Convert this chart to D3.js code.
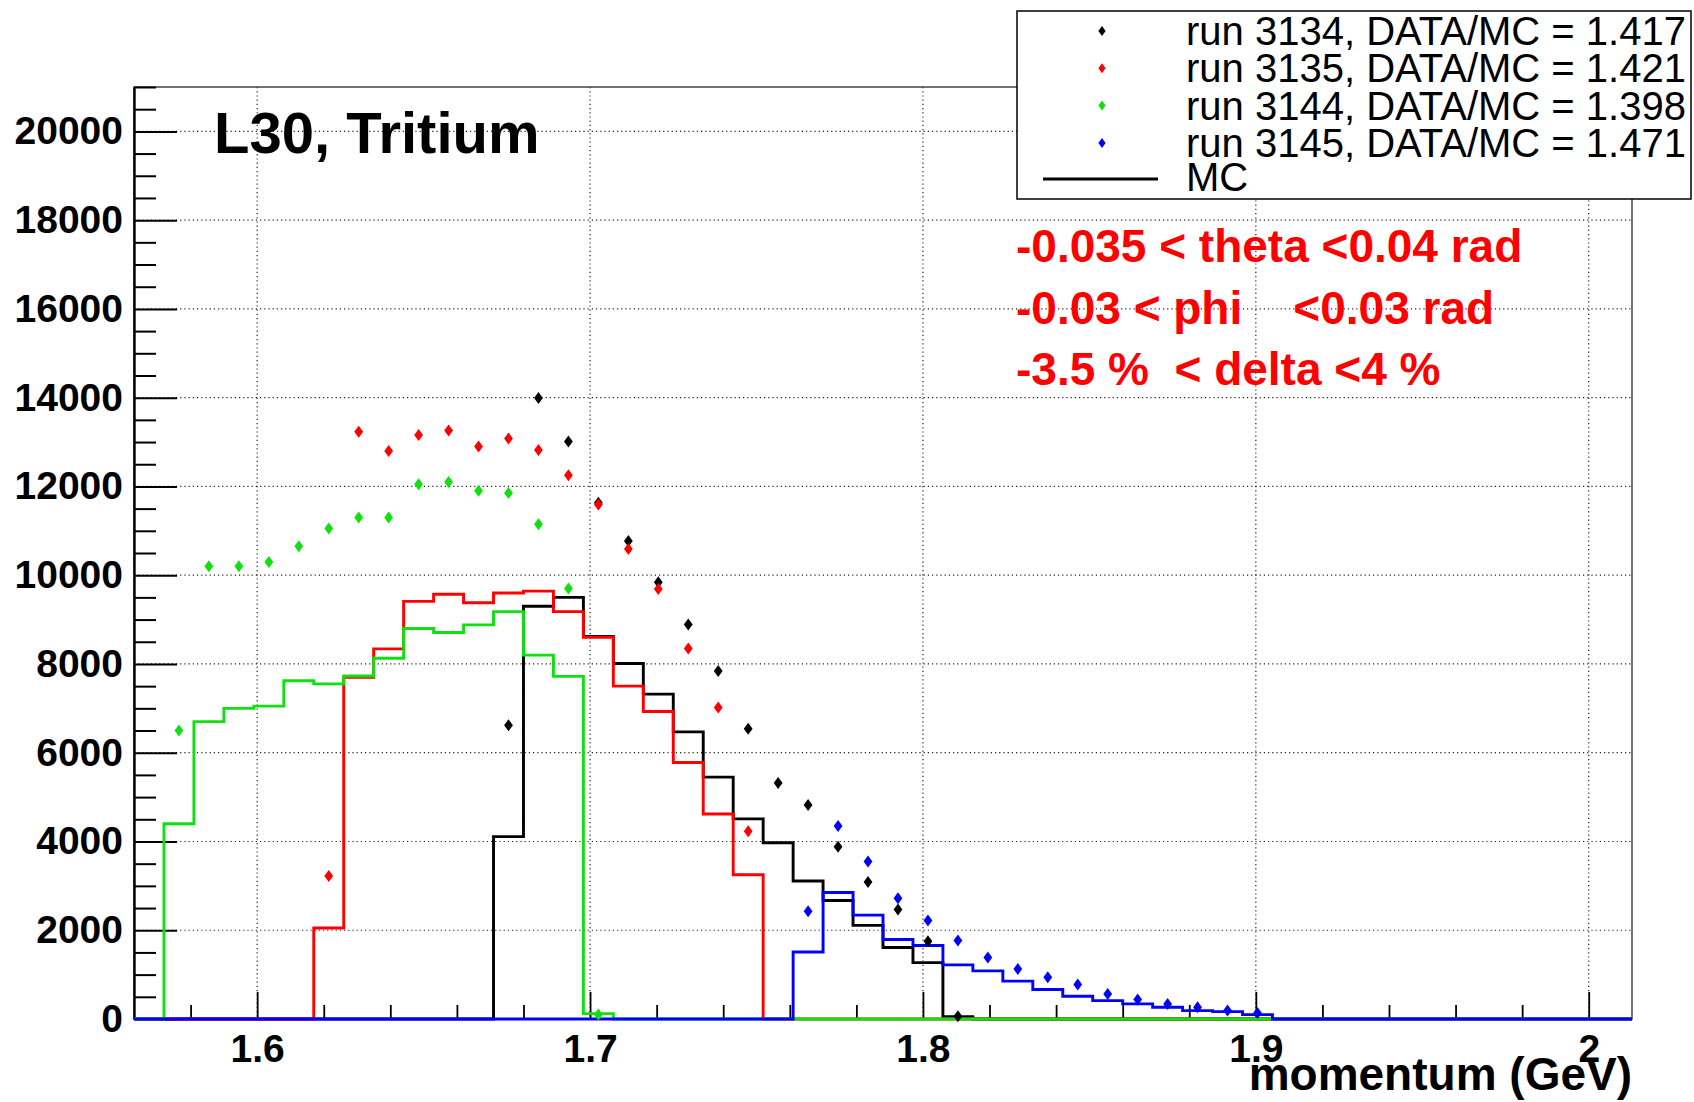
<!DOCTYPE html>
<html>
<head>
<meta charset="utf-8">
<script src="https://cdn.jsdelivr.net/npm/d3@7"></script>
<style>
body { margin: 0; background: #fff; }
text { font-family: "Liberation Sans", Arial, Helvetica, sans-serif; }
</style>
</head>
<body>
<div id="chart"></div>
<script>
// histogram binning (GeV): 50 bins of 0.009
var xMin = 1.563;
var xMax = 2.013;
var nBins = 50;

// MC histograms, values per bin starting at the given first bin
var mcFirst3134 = 12;
var mc3134 = [4110, 9300, 9500, 8620, 8010, 7320, 6470, 5450, 4510, 3970, 3110, 2670, 2110, 1610, 1270, 50];
var mcFirst3135 = 6;
var mc3135 = [2050, 7700, 8340, 9410, 9570, 9380, 9600, 9640, 9180, 8600, 7500, 6930, 5780, 4620, 3250];
var mcFirst3144 = 1;
var mc3144 = [4400, 6700, 7000, 7050, 7620, 7550, 7730, 8130, 8800, 8710, 8880, 9180, 8200, 7720, 120];
var mcFirst3145 = 22;
var mc3145 = [1510, 2850, 2340, 1790, 1655, 1220, 1085, 853, 664, 513, 415, 340, 264, 189, 166, 98];

// data points (bin centres), same bin offsets as the MC above
var data3134 = [6620, 13990, 13010, 11630, 10770, 9840, 8890, 7840, 6540, 5320, 4820, 3880, 3085, 2465, 1750, 60];
var data3135 = [3220, 13230, 12800, 13160, 13260, 12900, 13080, 12820, 12250, 11590, 10590, 9690, 8350, 7020, 4230];
var data3144 = [6500, 10200, 10200, 10300, 10650, 11050, 11300, 11300, 12050, 12100, 11900, 11850, 11150, 9700, 100];
var data3145 = [2430, 4350, 3550, 2720, 2217, 1770, 1385, 1125, 943, 777, 566, 438, 340, 264, 189, 136];

var legendLabels = ["run 3134, DATA/MC = 1.417", "run 3135, DATA/MC = 1.421",
                    "run 3144, DATA/MC = 1.398", "run 3145, DATA/MC = 1.471"];
var cutLabels = ["-0.035 < theta <0.04 rad", "-0.03 < phi    <0.03 rad", "-3.5 %  < delta <4 %"];

var yMajorTicks = [0, 2000, 4000, 6000, 8000, 10000, 12000, 14000, 16000, 18000, 20000];
var xMajorTicks = [1.6, 1.7, 1.8, 1.9, 2.0];
var xTickLabels = ["1.6", "1.7", "1.8", "1.9", "2"];

var runs = [
    {first: mcFirst3134, mc: mc3134, data: data3134, color: "#000000"},
    {first: mcFirst3135, mc: mc3135, data: data3135, color: "#ff0000"},
    {first: mcFirst3144, mc: mc3144, data: data3144, color: "#10e010"},
    {first: mcFirst3145, mc: mc3145, data: data3145, color: "#0000ff"}
];

var svgWidth = 1694;
var svgHeight = 1102;
var margin = {top: 87, right: 62, bottom: 83, left: 134};
var chartWidth = svgWidth - margin.left - margin.right;
var chartHeight = svgHeight - margin.top - margin.bottom;
var binW = (xMax - xMin) / nBins;

var svg = d3.select("#chart").append("svg")
    .attr("width", svgWidth)
    .attr("height", svgHeight)
    .style("background", "#fff");

var chartGroup = svg.append("g")
    .attr("transform", `translate(${margin.left}, ${margin.top})`);

var x = d3.scaleLinear().domain([xMin, xMax]).range([0, chartWidth]);
var y = d3.scaleLinear().domain([0, 21000]).range([chartHeight, 0]);

// dotted grid
chartGroup.selectAll("line.hgrid")
    .data(yMajorTicks.filter(d => d > 0))
    .enter().append("line")
    .attr("x1", 0).attr("x2", chartWidth)
    .attr("y1", d => y(d)).attr("y2", d => y(d))
    .attr("stroke", "#222").attr("stroke-width", 1.2)
    .attr("stroke-dasharray", "1.2,3");

chartGroup.selectAll("line.vgrid")
    .data(xMajorTicks)
    .enter().append("line")
    .attr("x1", d => x(d)).attr("x2", d => x(d))
    .attr("y1", 0).attr("y2", chartHeight)
    .attr("stroke", "#222").attr("stroke-width", 1.2)
    .attr("stroke-dasharray", "1.2,3");

// frame
chartGroup.append("rect")
    .attr("width", chartWidth).attr("height", chartHeight)
    .attr("fill", "none").attr("stroke", "#444").attr("stroke-width", 1.5);

// y axis (ticks inside the frame)
var yMinor = d3.range(0, 21001, 500).filter(d => d % 2000 !== 0);
chartGroup.append("g")
    .call(d3.axisLeft(y).tickValues(yMinor).tickSizeInner(-22).tickSizeOuter(0).tickFormat(""))
    .call(g => g.select(".domain").remove())
    .selectAll("line").attr("stroke", "#000").attr("stroke-width", 2);

var leftAxis = chartGroup.append("g")
    .call(d3.axisLeft(y).tickValues(yMajorTicks).tickSizeInner(-43).tickSizeOuter(0).tickPadding(11)
        .tickFormat(d3.format("d")));
leftAxis.select(".domain").attr("stroke", "#000").attr("stroke-width", 2.4);
leftAxis.selectAll("line").attr("stroke", "#000").attr("stroke-width", 2);
leftAxis.selectAll("text")
    .attr("font-family", "Liberation Sans, Arial, sans-serif")
    .attr("font-weight", "bold").attr("font-size", "39px").attr("fill", "#000");

// x axis
var xMinor = d3.range(79, 101).filter(k => k % 5 !== 0).map(k => k * 0.02);
chartGroup.append("g")
    .attr("transform", `translate(0, ${chartHeight})`)
    .call(d3.axisBottom(x).tickValues(xMinor).tickSizeInner(-14).tickSizeOuter(0).tickFormat(""))
    .call(g => g.select(".domain").remove())
    .selectAll("line").attr("stroke", "#000").attr("stroke-width", 1.8);

var bottomAxis = chartGroup.append("g")
    .attr("transform", `translate(0, ${chartHeight})`)
    .call(d3.axisBottom(x).tickValues(xMajorTicks).tickSizeInner(-27).tickSizeOuter(0).tickPadding(15)
        .tickFormat((d, i) => xTickLabels[i]));
bottomAxis.select(".domain").remove();
bottomAxis.selectAll("line").attr("stroke", "#000").attr("stroke-width", 1.8);
bottomAxis.selectAll("text")
    .attr("font-family", "Liberation Sans, Arial, sans-serif")
    .attr("font-weight", "bold").attr("font-size", "39px").attr("fill", "#000");

// MC histograms as step outlines over the full range
var stepLine = d3.line()
    .x(d => x(d[0]))
    .y(d => y(d[1]))
    .curve(d3.curveStepAfter);

runs.forEach(function(run) {
    var bins = new Array(nBins).fill(0);
    run.mc.forEach((v, i) => bins[run.first + i] = v);
    var pts = bins.map((v, i) => [xMin + i * binW, v]);
    pts.push([xMax, bins[nBins - 1]]);
    chartGroup.append("path")
        .datum(pts)
        .attr("d", stepLine)
        .attr("fill", "none")
        .attr("stroke", run.color)
        .attr("stroke-width", 2.9);
});

// data markers (diamonds)
var diamond = "M0,-6L4.4,0L0,6L-4.4,0Z";
runs.forEach(function(run) {
    chartGroup.selectAll(null)
        .data(run.data.map((v, i) => [xMin + (run.first + i + 0.5) * binW, v]))
        .enter().append("path")
        .attr("d", diamond)
        .attr("transform", d => `translate(${x(d[0])}, ${y(d[1])})`)
        .attr("fill", run.color);
});

// x axis title
svg.append("text")
    .attr("x", margin.left + chartWidth)
    .attr("y", 1090)
    .attr("text-anchor", "end")
    .attr("font-weight", "bold")
    .attr("font-size", "46px")
    .text("momentum (GeV)");

// plot title
svg.append("text")
    .attr("x", 214)
    .attr("y", 153)
    .attr("font-weight", "bold")
    .attr("font-size", "58px")
    .text("L30, Tritium");

// cut labels
svg.selectAll("text.cuts")
    .data(cutLabels)
    .enter().append("text")
    .classed("cuts", true)
    .attr("x", 1016)
    .attr("y", (d, i) => 262 + i * 61.5)
    .attr("font-weight", "bold")
    .attr("font-size", "46px")
    .attr("fill", "#ff0000")
    .style("white-space", "pre")
    .text(d => d);

// legend
var legend = svg.append("g");
legend.append("rect")
    .attr("x", 1017).attr("y", 11)
    .attr("width", 674).attr("height", 188)
    .attr("fill", "#fff").attr("stroke", "#000").attr("stroke-width", 1.5);

legendLabels.forEach(function(label, i) {
    var cy = 31 + i * 37.3;
    legend.append("path")
        .attr("d", "M0,-5L3.6,0L0,5L-3.6,0Z")
        .attr("transform", `translate(1102, ${cy})`)
        .attr("fill", runs[i].color);
    legend.append("text")
        .attr("x", 1186).attr("y", cy + 14)
        .attr("font-size", "40px")
        .text(label);
});
legend.append("line")
    .attr("x1", 1043).attr("x2", 1158)
    .attr("y1", 179).attr("y2", 179)
    .attr("stroke", "#000").attr("stroke-width", 3);
legend.append("text")
    .attr("x", 1186).attr("y", 191)
    .attr("font-size", "40px")
    .text("MC");
</script>
</body>
</html>
